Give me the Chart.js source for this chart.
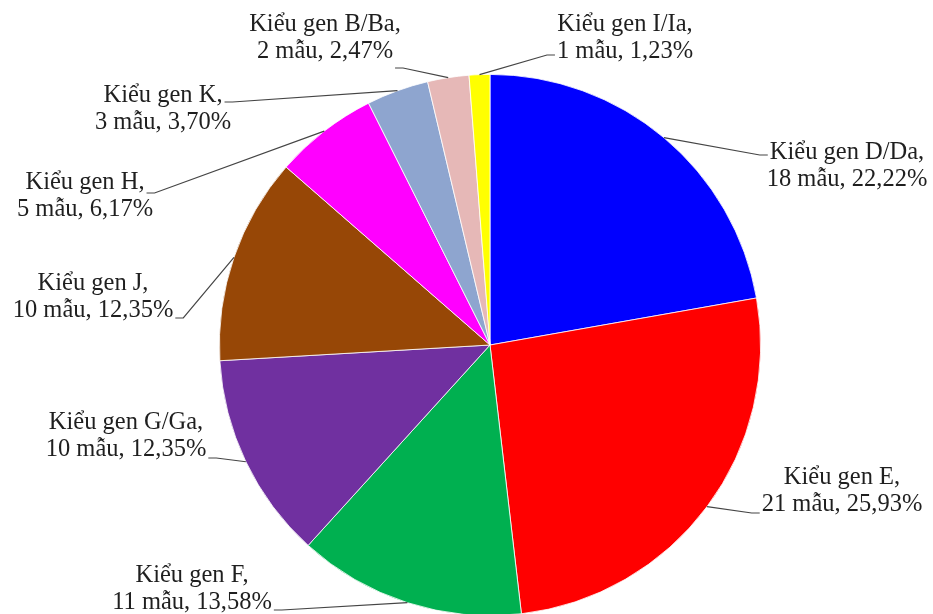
<!DOCTYPE html>
<html lang="vi">
<head>
<meta charset="utf-8">
<title>Kiểu gen</title>
<script src="https://cdn.jsdelivr.net/npm/chart.js@4.4.1/dist/chart.umd.min.js"></script>
<style>
  html, body { margin: 0; padding: 0; background: #ffffff; overflow: hidden; }
  #wrap { width: 933px; height: 614px; overflow: hidden; position: relative; }
  canvas { display: block; }
</style>
</head>
<body>
<div id="wrap"><canvas id="pieChart" width="933" height="690"></canvas></div>
<script>
// Số mẫu theo từng kiểu gen (tổng 81 mẫu)
const genotypes = ['D/Da', 'E', 'F', 'G/Ga', 'J', 'H', 'K', 'B/Ba', 'I/Ia'];
const sampleCounts = [18, 21, 11, 10, 10, 5, 3, 2, 1];
const sliceColors = ['#0000FF', '#FF0000', '#00B050', '#7030A0', '#974706', '#FF00FF', '#8EA5CF', '#E6B8B7', '#FFFF00'];

// Vị trí nhãn so với tâm hình tròn: [dx tâm khối chữ, dy đường chân dòng 1]
const labelOffsets = [
    [357, -186], [352, 139], [-298, 237], [-364, 84], [-397, -55],
    [-405, -156], [-327, -243], [-165, -314], [135, -314]
];
// Đường dẫn: [dòng gắn vào, phía, lệch dọc]
const leaderAttach = [
    [0, 'left', -4], [1, 'left', 2], [1, 'right', 1], [1, 'right', 2], [1, 'right', 1],
    [0, 'right', 4], [0, 'right', 0], [1, 'right', 10], [1, 'left', -3]
];

const total = sampleCounts.reduce((a, b) => a + b, 0);
const LINE_GAP = 27;

function labelLines(i) {
    const pct = (sampleCounts[i] / total * 100).toFixed(2).replace('.', ',');
    return ['Kiểu gen ' + genotypes[i] + ',', sampleCounts[i] + ' mẫu, ' + pct + '%'];
}

// Vẽ nhãn và đường dẫn kiểu Excel
const leaderLabels = {
    id: 'leaderLabels',
    afterDatasetsDraw(chart) {
        const ctx = chart.ctx;
        const arcs = chart.getDatasetMeta(0).data;
        ctx.save();
        ctx.font = "24.5px 'Liberation Serif', 'Times New Roman', serif";
        ctx.textBaseline = 'alphabetic';
        ctx.textAlign = 'center';
        arcs.forEach((arc, i) => {
            const p = arc.getProps(['x', 'y', 'startAngle', 'endAngle', 'outerRadius'], true);
            const mid = (p.startAngle + p.endAngle) / 2;
            const ex = p.x + Math.cos(mid) * p.outerRadius;
            const ey = p.y + Math.sin(mid) * p.outerRadius;

            const lines = labelLines(i);
            const cx = p.x + labelOffsets[i][0];
            const b1 = p.y + labelOffsets[i][1];

            ctx.fillStyle = '#1f1f1f';
            lines.forEach((t, k) => ctx.fillText(t, cx, b1 + k * LINE_GAP));

            const [li, side, dy] = leaderAttach[i];
            const w = ctx.measureText(lines[li]).width;
            const dir = side === 'left' ? -1 : 1;
            const tx = cx + dir * (w / 2 + 2);
            const ty = b1 + li * LINE_GAP + dy;

            ctx.strokeStyle = '#454545';
            ctx.lineWidth = 1.2;
            ctx.beginPath();
            ctx.moveTo(tx, ty);
            ctx.lineTo(tx + dir * 8, ty);
            ctx.lineTo(ex, ey);
            ctx.stroke();
        });
        ctx.restore();
    }
};

new Chart(document.getElementById('pieChart').getContext('2d'), {
    type: 'pie',
    data: {
        labels: genotypes,
        datasets: [{
            data: sampleCounts,
            backgroundColor: sliceColors,
            borderColor: '#ffffff',
            borderWidth: 0.8
        }]
    },
    options: {
        responsive: false,
        animation: false,
        layout: { padding: { left: 219, right: 172, top: 74, bottom: 74 } },
        plugins: {
            legend: { display: false },
            tooltip: { enabled: false }
        }
    },
    plugins: [leaderLabels]
});
</script>
</body>
</html>
